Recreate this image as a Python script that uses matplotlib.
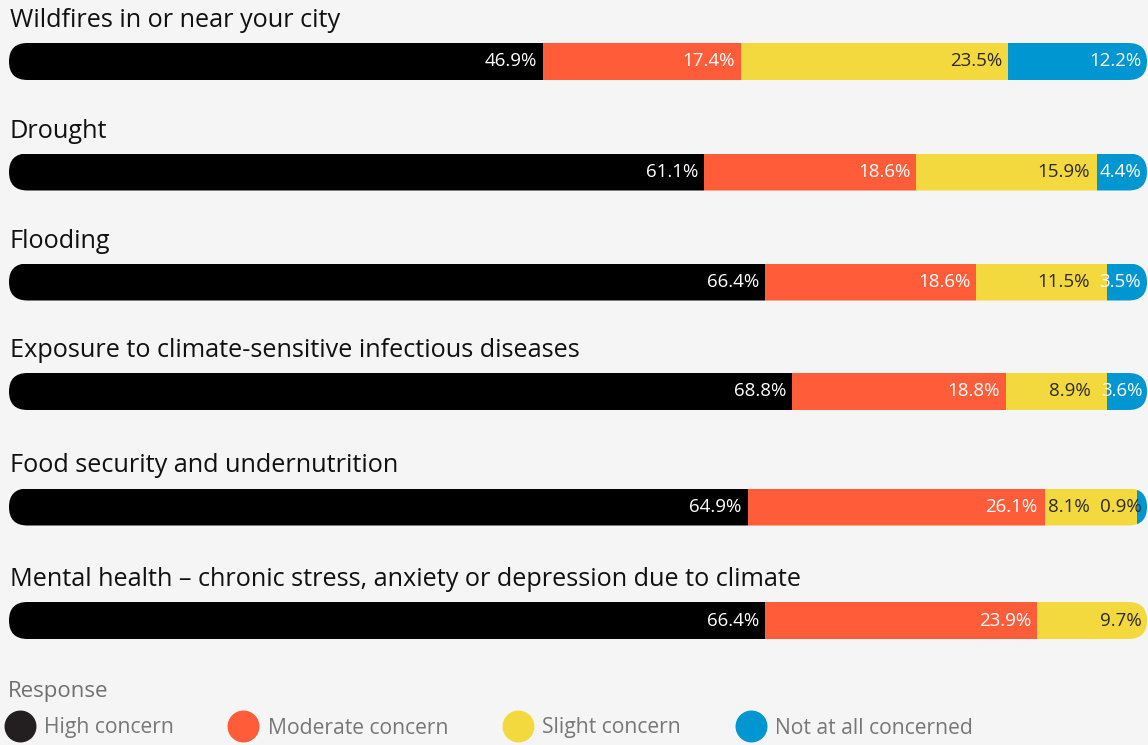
import matplotlib
matplotlib.use("Agg")
import matplotlib.pyplot as plt
from matplotlib.patches import FancyBboxPatch
from matplotlib.lines import Line2D
import numpy as np

# datos
categorias = ["Wildfires in or near your city",
              "Drought",
              "Flooding",
              "Exposure to climate-sensitive infectious diseases",
              "Food security and undernutrition",
              "Mental health \u2013 chronic stress, anxiety or depression due to climate"]
respuestas = ["High concern", "Moderate concern", "Slight concern", "Not at all concerned"]
alta = [46.9, 61.1, 66.4, 68.8, 64.9, 66.4]
moderada = [17.4, 18.6, 18.6, 18.8, 26.1, 23.9]
leve = [23.5, 15.9, 11.5, 8.9, 8.1, 9.7]
nada = [12.2, 4.4, 3.5, 3.6, 0.9, 0.0]

colores = ["#000000", "#ff5c39", "#f4d93e", "#0096d1"]
colores_leyenda = ["#231f20", "#ff5c39", "#f4d93e", "#0096d1"]
color_txt = ["white", "white", "#2b2b2b", "white"]
fuente = "Open Sans"

fondo = "#f5f5f5"
W, H = 1148, 745
fig = plt.figure(figsize=(W / 100, H / 100), dpi=100, facecolor=fondo)
ax = fig.add_axes([9 / W, 0, 1138 / W, 1])
ax.set_facecolor(fondo)
ax.set_xlim(0, 100)
ax.set_ylim(H, 0)
ax.axis("off")

# posiciones de las filas (pixeles)
ys = [61.5, 172, 282, 391.5, 507, 620.5]
alto = 37
px_x = 1138 / 100.0  # pixeles por unidad en x

series = [alta, moderada, leve, nada]
izq = np.zeros(len(categorias))
etiquetas = [[] for _ in categorias]
for k, serie in enumerate(series):
    vals = np.array(serie)
    barras = ax.barh(ys, vals, left=izq, height=alto, color=colores[k], linewidth=0)
    for i, b in enumerate(barras):
        clip = FancyBboxPatch((0, ys[i] - alto / 2), 100, alto,
                              boxstyle="round,pad=0,rounding_size=%f" % (alto / 2 / px_x),
                              mutation_aspect=px_x, transform=ax.transData)
        b.set_clip_path(clip)
        if vals[i] > 0:
            c = color_txt[k]
            if vals[i] < 2:
                c = "#2b2b2b"
            t = ax.text(izq[i] + vals[i] - 0.5, ys[i], "%.1f%%" % vals[i], ha="right", va="center",
                        color=c, fontsize=13.5, family=fuente)
            etiquetas[i].append(t)
    izq = izq + vals

# evitar que las etiquetas se pisen (empujar a la izquierda)
rend = fig.canvas.get_renderer()
for fila in etiquetas:
    for j in range(len(fila) - 2, -1, -1):
        bb = fila[j].get_window_extent(rend)
        bb_sig = fila[j + 1].get_window_extent(rend)
        if bb.x1 > bb_sig.x0 - 10:
            dx = (bb.x1 - bb_sig.x0 + 10) / px_x
            x, y = fila[j].get_position()
            fila[j].set_position((x - dx, y))

for i, cat in enumerate(categorias):
    ax.text(0.05, ys[i] - 41, cat, ha="left", va="center", fontsize=18.2,
            family=fuente, weight="medium", color="#111111")

# leyenda
fig.text(8 / W, 1 - 691 / H, "Response", ha="left", va="center", fontsize=16,
         family=fuente, color="#707070")
handles = [Line2D([], [], marker="o", linestyle="none", markersize=22,
                  markerfacecolor=c, markeredgecolor=c) for c in colores_leyenda]
leg = fig.legend(handles, respuestas, loc="center left", bbox_to_anchor=(7 / W, 1 - 728 / H),
                 ncol=4, frameon=False, prop={"family": fuente, "size": 15.2},
                 handletextpad=0.55, columnspacing=2.7, borderaxespad=0,
                 handlelength=1.2, borderpad=0)
for t in leg.get_texts():
    t.set_color("#777777")

fig.savefig("out.png", dpi=100, facecolor=fondo)
